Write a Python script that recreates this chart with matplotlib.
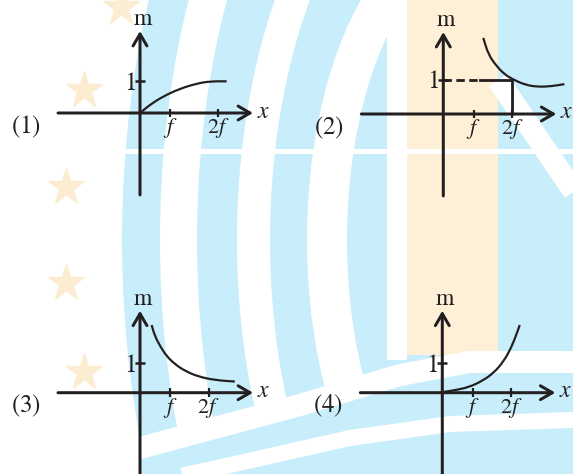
import matplotlib.pyplot as plt
import matplotlib.patches as mpatches
from matplotlib.path import Path

W, H, DPI = 573, 474, 100

# curves: x in units of the "f" tick spacing, m in units of the "1" tick
x_1 = [0, 0.33, 0.76, 1.31, 1.86, 2.30, 2.84]
m_1 = [0, 0.26, 0.52, 0.76, 0.92, 0.99, 0.99]
x_2 = [1.31, 1.48, 1.75, 2.02, 2.26, 2.68, 3.11, 3.55, 3.97]
m_2 = [2.22, 1.73, 1.39, 1.15, 1.02, 0.85, 0.79, 0.81, 0.87]
x_3 = [0.38, 0.49, 0.66, 0.87, 1.15, 1.48, 1.91, 2.46, 3.11]
m_3 = [2.31, 1.93, 1.59, 1.25, 0.97, 0.74, 0.55, 0.43, 0.38]
x_4 = [0, 0.44, 0.87, 1.31, 1.69, 2.02, 2.27, 2.43, 2.54]
m_4 = [0.02, 0.09, 0.19, 0.40, 0.68, 1.08, 1.56, 1.99, 2.31]

panel_labels = ['(1)', '(2)', '(3)', '(4)']
tick_f = [1.0, 1.0, 1.0, 1.0]
tick_2f = [2.57, 2.26, 2.25, 2.25]
# panel (2): guide lines at m = 1 and x = 2f
guide_dash_end = 1.2

INK = '#231f20'
BLUE = '#c8edfb'
ORANGE = '#fef0d6'
STAR = '#fcedd2'

plt.rcParams['mathtext.fontset'] = 'stix'


def pt(px):
    return px * 72 / DPI


def smooth_path(xs, ys):
    # quadratic bezier through the midpoints so the curve looks hand drawn
    pts = list(zip(xs, ys))
    verts = [pts[0]]
    codes = [Path.MOVETO]
    mids = [((a[0] + b[0]) / 2, (a[1] + b[1]) / 2) for a, b in zip(pts[:-1], pts[1:])]
    verts.append(mids[0])
    codes.append(Path.LINETO)
    for i in range(1, len(pts) - 1):
        verts += [pts[i], mids[i]]
        codes += [Path.CURVE3, Path.CURVE3]
    verts.append(pts[-1])
    codes.append(Path.LINETO)
    return Path(verts, codes)


fig = plt.figure(figsize=(W / DPI, H / DPI), dpi=DPI)

# watermark in the background (pixel coordinates)
bg = fig.add_axes([0, 0, 1, 1])
bg.set_xlim(0, W)
bg.set_ylim(H, 0)
bg.axis('off')
bg.add_patch(mpatches.Ellipse((560, 240), 876, 1400, color=BLUE, lw=0))
for cx, w, h, lw in [(470, 583, 1100, 37), (470, 433, 840, 33), (470, 286, 600, 40)]:
    bg.add_patch(mpatches.Arc((cx, 240), w, h, theta1=90, theta2=270, color='white', lw=pt(lw)))
bg.add_patch(mpatches.Rectangle((387, 0), 20, 360, color='white', lw=0))
bg.add_patch(mpatches.Rectangle((407, 0), 91, 355, color=ORANGE, lw=0))
bg.plot([498, 590], [80, 215], color='white', lw=pt(22), solid_capstyle='butt')
wave_x = [140, 300, 400, 470, 573]
wave_y = [448, 405, 375, 362, 362]
bg.fill(wave_x + [573, 140], wave_y + [H, H], color=BLUE, lw=0)
bg.plot(wave_x, wave_y, color='white', lw=pt(22))
bg.plot([190, 350, 450, 573], [474, 438, 424, 420], color='white', lw=pt(16))
bg.add_patch(mpatches.Rectangle((125, 149), W, 5, color='white', lw=0))
bg.plot([121, 84, 66, 66, 84], [7, 90, 187, 283, 372], ls='none', marker='*',
        ms=28, color=STAR, mec=STAR)

origins = [(140, 113), (443.3, 114), (140, 392.7), (442.3, 392.7)]
y_unit = [32, 34.3, 29.3, 29.3]
x_unit = 30.5
curves = [(x_1, m_1), (x_2, m_2), (x_3, m_3), (x_4, m_4)]

for i, (ox, oy) in enumerate(origins):
    yu = y_unit[i]
    ax = fig.add_axes([(ox - 125) / W, 1 - (oy + 95) / H, 260 / W, 200 / H])
    ax.set_xlim(-125 / x_unit, 135 / x_unit)
    ax.set_ylim(-95 / yu, 105 / yu)
    ax.axis('off')
    ax.patch.set_alpha(0)

    arrow = dict(arrowstyle='->,head_length=0.86,head_width=0.5', lw=pt(3),
                 color=INK, shrinkA=0, shrinkB=0, mutation_scale=10)
    ax.annotate('', xy=(113 / x_unit, 0), xytext=(-82 / x_unit, 0), arrowprops=arrow)
    ax.annotate('', xy=(0, 82 / yu), xytext=(0, -82 / yu), arrowprops=arrow)

    # ticks
    for t in (tick_f[i], tick_2f[i]):
        ax.plot([t, t], [-4.3 / yu, 4.3 / yu], color=INK, lw=pt(2.2), solid_capstyle='butt')
    ax.plot([-5 / x_unit, 5 / x_unit], [1, 1], color=INK, lw=pt(2.5), solid_capstyle='butt')

    # labels
    ax.text(3 / x_unit, 88 / yu, r'$\mathrm{m}$', fontsize=17, ha='center', va='baseline', color=INK)
    ax.text(-4 / x_unit, 1 - 8.5 / yu, '$1$', fontsize=18, ha='right', va='baseline', color=INK)
    ax.text(117 / x_unit, -4.5 / yu, '$x$', fontsize=17, ha='left', va='baseline', color=INK)
    ax.text(tick_f[i], -20 / yu, '$f$', fontsize=16, ha='center', va='baseline', color=INK)
    ax.text(tick_2f[i], -20 / yu, '$2f$', fontsize=16, ha='center', va='baseline', color=INK)
    ax.text(-114 / x_unit, -20 / yu, '$' + panel_labels[i] + '$', fontsize=18, ha='center',
            va='baseline', color=INK)

    xs, ms = curves[i]
    ax.add_patch(mpatches.PathPatch(smooth_path(xs, ms), fill=False, ec=INK, lw=pt(2.2)))

    if i == 1:
        ax.plot([0, guide_dash_end], [1, 1], color=INK, lw=pt(2.8), ls=(0, (3, 1.6)))
        ax.plot([guide_dash_end, tick_2f[i], tick_2f[i]], [1, 1, 0], color=INK, lw=pt(2.8))

fig.savefig('out.png', dpi=DPI)
